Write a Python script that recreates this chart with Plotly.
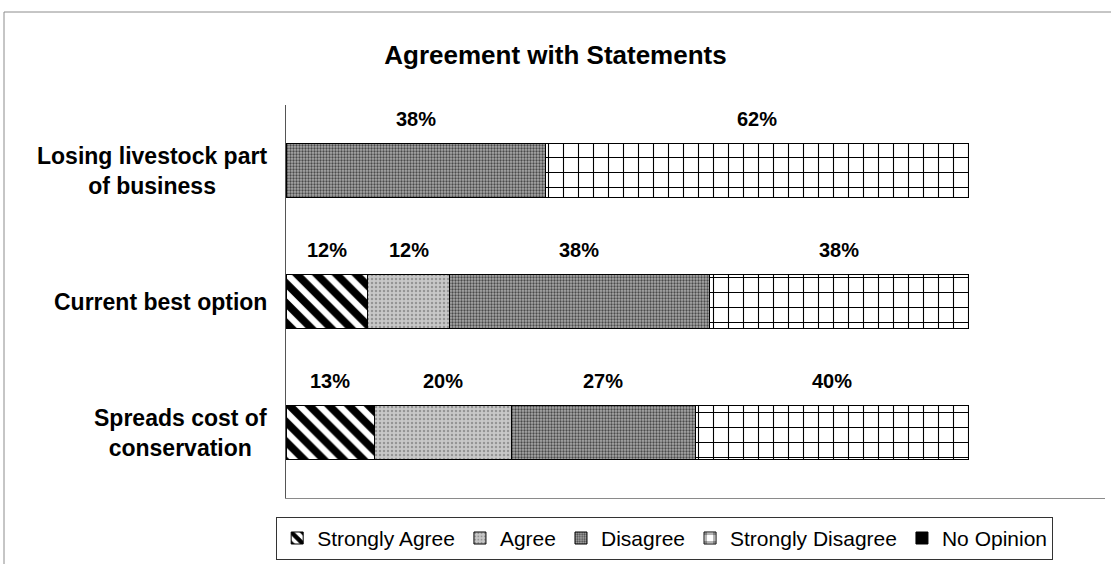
import plotly.graph_objects as go

# Survey statements (top to bottom) and response shares in percent
categories = [
    "Losing livestock part<br>of business",
    "Current best option",
    "Spreads cost of<br>conservation",
]
strongly_agree = [0, 12, 13]
agree = [0, 12, 20]
disagree = [38, 38, 27]
strongly_disagree = [62, 38, 40]
no_opinion = [0, 0, 0]

series_names = ["Strongly Agree", "Agree", "Disagree", "Strongly Disagree", "No Opinion"]
series_values = [strongly_agree, agree, disagree, strongly_disagree, no_opinion]

# Fill styles for each response (monochrome hatching)
styles = [
    dict(color="white", pattern=dict(shape="\\", fgcolor="black", fgopacity=1, size=14, solidity=0.55, fillmode="overlay")),
    dict(color="#c8c8c8", pattern=dict(shape=".", fgcolor="#959595", fgopacity=1, size=4, solidity=0.3, fillmode="overlay")),
    dict(color="#aaaaaa", pattern=dict(shape=".", fgcolor="#4a4a4a", fgopacity=1, size=3, solidity=0.45, fillmode="overlay")),
    dict(color="white", pattern=dict(shape="+", fgcolor="black", fgopacity=1, size=15, solidity=0.14, fillmode="overlay")),
    dict(color="black"),
]

FONT = "Arial, 'Liberation Sans', sans-serif"

fig = go.Figure()
for name, vals, st in zip(series_names, series_values, styles):
    fig.add_trace(go.Bar(
        name=name,
        y=categories,
        x=vals,
        orientation="h",
        width=0.41,
        marker=dict(line=dict(color="black", width=1), **st),
        hoverinfo="skip",
    ))

# Percentage labels above each segment
annotations = []
for cat_i, cat in enumerate(categories):
    start = 0
    for vals in series_values:
        v = vals[cat_i]
        if v > 0:
            annotations.append(dict(
                x=start + v / 2, y=cat, xref="x", yref="y",
                text=f"<b>{v}%</b>", showarrow=False, yshift=52,
                font=dict(family=FONT, size=20, color="black"),
            ))
        start += v

# Category labels to the left of the bars
for cat in categories:
    annotations.append(dict(
        x=0, y=cat, xref="paper", yref="y", xanchor="right", yanchor="middle",
        xshift=-17, align="center", text=f"<b>{cat}</b>", showarrow=False,
        font=dict(family=FONT, size=23, color="black"),
    ))

fig.update_layout(
    width=1111, height=564,
    barmode="stack",
    paper_bgcolor="white", plot_bgcolor="white",
    margin=dict(l=286, r=6, t=105, b=66, autoexpand=False),
    title=dict(
        text="<b>Agreement with Statements</b>",
        x=0.5, xref="container", xanchor="center",
        y=1 - 55 / 564, yref="container", yanchor="middle",
        font=dict(family=FONT, size=26, color="black"),
    ),
    xaxis=dict(
        range=[0, 120], showgrid=False, zeroline=False, showticklabels=False,
        ticks="", showline=True, linecolor="#8a8a8a", linewidth=1,
    ),
    yaxis=dict(
        autorange="reversed", showgrid=False, zeroline=False, showticklabels=False,
        ticks="", showline=True, linecolor="#555555", linewidth=1,
    ),
    showlegend=True,
    legend=dict(
        orientation="h",
        x=-0.012, xanchor="left",
        y=-0.048, yanchor="top",
        bordercolor="#333333", borderwidth=1,
        font=dict(family=FONT, size=21, color="black"),
        itemwidth=30, tracegroupgap=0,
        traceorder="normal",
    ),
    annotations=annotations,
    shapes=[
        # outer chart frame
        dict(type="rect", xref="paper", yref="paper",
             x0=(4 - 286) / 819, x1=(1115 - 286) / 819,
             y0=(498 - 570) / 393, y1=(498 - 12) / 393,
             line=dict(color="#8c8c8c", width=1), fillcolor="rgba(0,0,0,0)"),
    ],
)

fig.write_html("out.html")
